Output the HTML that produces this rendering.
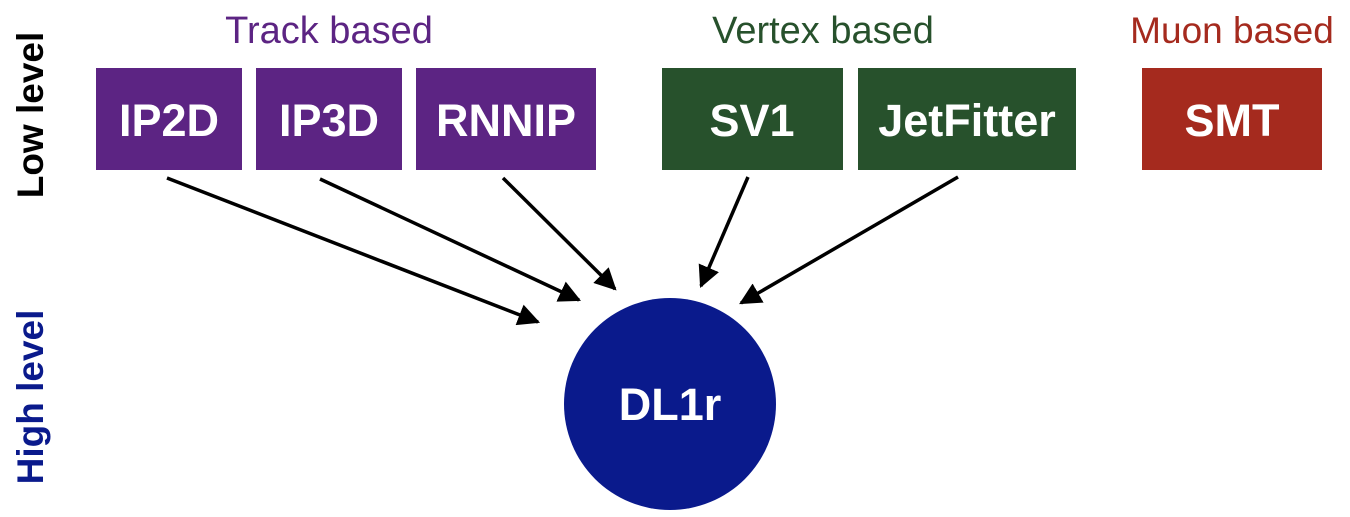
<!DOCTYPE html>
<html><head><meta charset="utf-8"><style>
body{margin:0;width:1350px;height:512px;background:#fff;overflow:hidden;font-family:"Liberation Sans",sans-serif;}
</style></head><body>
<svg width="1350" height="512" viewBox="0 0 1350 512" xmlns="http://www.w3.org/2000/svg" font-family="Liberation Sans, sans-serif">
<defs>
<marker id="ah" viewBox="0 0 10 10" refX="9" refY="5" markerWidth="22" markerHeight="22" markerUnits="userSpaceOnUse" orient="auto"><path d="M0,0 L10,5 L0,10 z" fill="#000"/></marker></defs>
<text x="329" y="43" font-size="38" fill="#5c2483" text-anchor="middle">Track based</text>
<text x="823" y="43" font-size="38" fill="#27512c" text-anchor="middle">Vertex based</text>
<text x="1232" y="43" font-size="37" fill="#a52a1e" text-anchor="middle">Muon based</text>
<text transform="translate(43,115) rotate(-90)" font-size="37" font-weight="bold" text-anchor="middle" fill="#000">Low level</text>
<text transform="translate(43,397) rotate(-90)" font-size="37" font-weight="bold" text-anchor="middle" fill="#0a1a8c">High level</text>
<g font-size="45" font-weight="bold" fill="#fff" text-anchor="middle">
<rect x="96" y="68" width="146" height="102" fill="#5c2483"/><text x="169" y="136">IP2D</text>
<rect x="256" y="68" width="146" height="102" fill="#5c2483"/><text x="329" y="136">IP3D</text>
<rect x="416" y="68" width="180" height="102" fill="#5c2483"/><text x="506" y="136">RNNIP</text>
<rect x="662" y="68" width="181" height="102" fill="#27512c"/><text x="752" y="136">SV1</text>
<rect x="858" y="68" width="218" height="102" fill="#27512c"/><text x="967" y="136">JetFitter</text>
<rect x="1142" y="68" width="180" height="102" fill="#a52a1e"/><text x="1232" y="136">SMT</text>
<circle cx="670" cy="404" r="106" fill="#0a1a8c"/><text x="670" y="420">DL1r</text>
</g>
<g stroke="#000" stroke-width="3.5" marker-end="url(#ah)">
<line x1="167" y1="178" x2="538" y2="322"/>
<line x1="320" y1="179" x2="579" y2="300"/>
<line x1="503" y1="178" x2="615" y2="289"/>
<line x1="748" y1="177" x2="701" y2="286"/>
<line x1="958" y1="177" x2="741" y2="303"/>
</g>
</svg>
</body></html>
